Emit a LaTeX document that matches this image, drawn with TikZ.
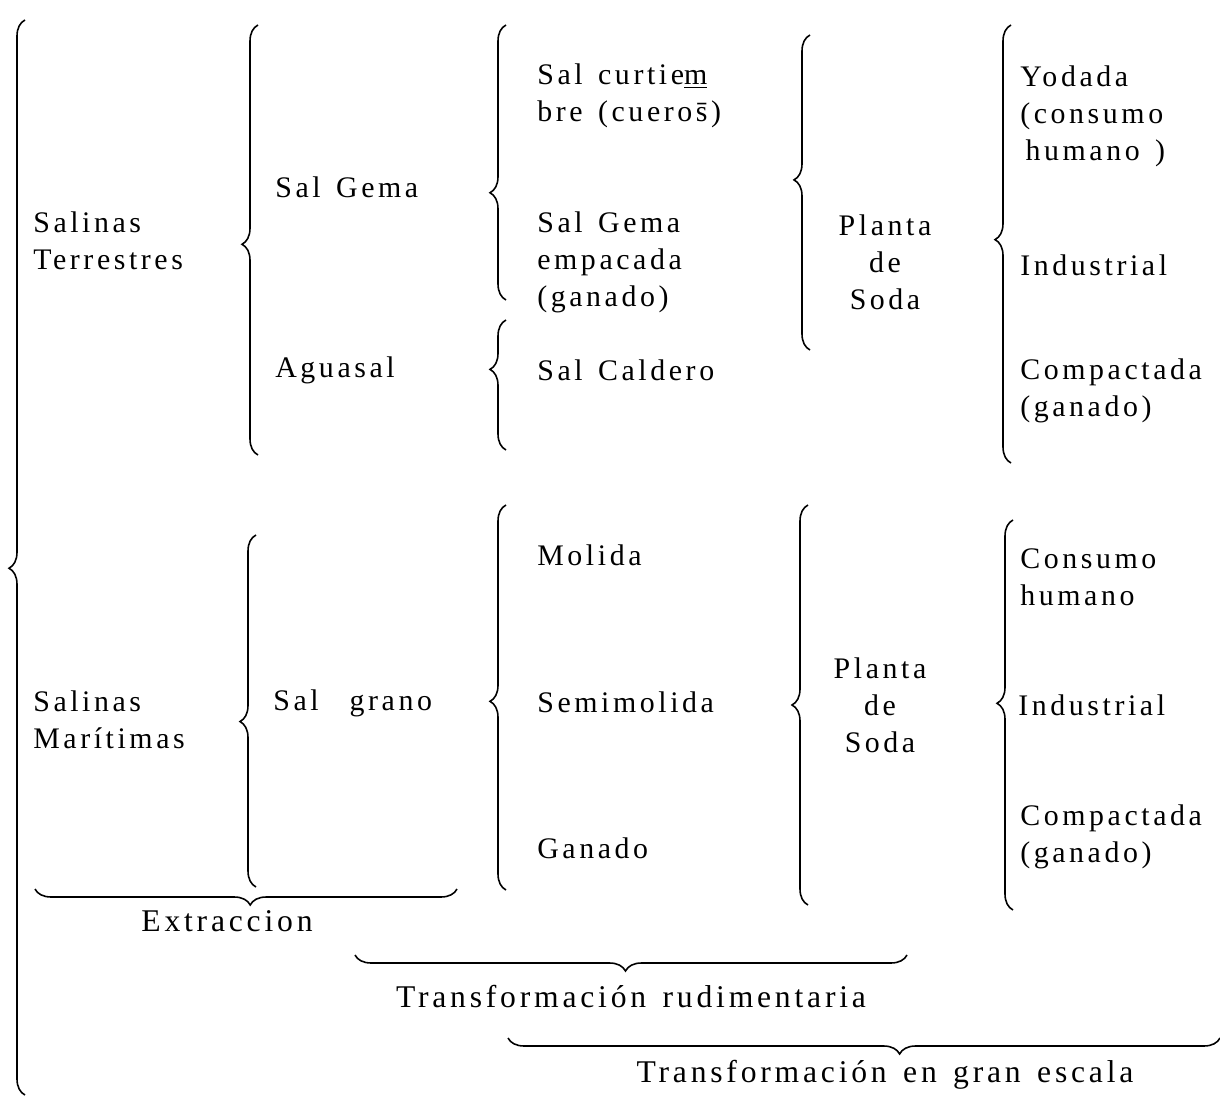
\documentclass[tikz,border=0pt]{standalone}
\usepackage{fontspec}
\setmainfont{Liberation Serif}[LetterSpace=12,WordSpace=1.4]
\usetikzlibrary{decorations.pathreplacing}

\tikzset{
	llave/.style={decorate,decoration={brace,amplitude=0.32cm,aspect=#1},line width=0.9pt},
	llave/.default=0.5,
	txt/.style={anchor=west,inner sep=0pt,align=left},
	ctxt/.style={inner sep=0pt,align=center},
	pie/.style={inner sep=0pt,font=\fontsize{18}{22}\selectfont}
}

\begin{document}
\begin{tikzpicture}[x=0.02cm,y=-0.02cm,font=\fontsize{17}{21}\selectfont]
				\useasboundingbox (0,0) rectangle (1220,1101);
				
				% columna 1
				\node[txt] (salT) at (33,241) {Salinas\\Terrestres};
				\node[txt] (salM) at (33,720) {Salinas\\Marítimas};
				
				% columna 2
				\node[txt] (gema) at (275,187) {Sal Gema};
				\node[txt] (agua) at (275,370) {Aguasal};
				\node[txt] (grano) at (273,703) {Sal~~grano};
				
				% columna 3
				\node[txt] (curt) at (537,96) {Sal curtie\underline{m}\\bre (cuero\={s})};
				\node[txt] (empac) at (537,262) {Sal Gema\\empacada\\(ganado)};
				\node[txt] (cald) at (537,370) {Sal Caldero};
				\node[txt] (mol) at (537,555) {Molida};
				\node[txt] (semi) at (537,702) {Semimolida};
				\node[txt] (gan) at (537,848) {Ganado};
				
				% columna 4
				\node[ctxt] (plantaA) at (885,262) {Planta\\de\\Soda};
				\node[ctxt] (plantaB) at (880,705) {Planta\\de\\Soda};
				
				% columna 5
				\node[txt] (yod) at (1020,116) {Yodada\\(consumo\\\hspace{3pt}humano )};
				\node[txt] (indA) at (1020,265) {Industrial};
				\node[txt] (compA) at (1020,391) {Compactada\\(ganado)};
				\node[txt] (cons) at (1020,577) {Consumo\\humano};
				\node[txt] (indB) at (1018,705) {Industrial};
				\node[txt] (compB) at (1020,837) {Compactada\\(ganado)};
				
				% llaves verticales: x, y abajo, y arriba, aspecto
				\foreach \x/\ya/\yb/\asp in {25/1095/20/0.49, 258/455/25/0.49, 256/887/535/0.47,
					506/300/25/0.39, 506/450/320/0.62, 506/890/505/0.49,
					810/350/35/0.54, 808/905/505/0.5,
					1011/463/25/0.51, 1013/910/520/0.53}{
					\draw[llave=\asp] (\x,\ya) -- (\x,\yb);}
				
				% llaves horizontales
				\draw[llave=0.49] (457,889) -- (35,889);
				\draw[llave=0.51] (907,955) -- (355,955);
				\draw[llave=0.45] (1220,1038) -- (508,1038);
				
				\node[pie] (extr) at (227,921) {Extraccion};
				\node[pie] (rud) at (631,997) {Transformación rudimentaria};
				\node[pie] (gran) at (885,1075) {Transformación en gran escala};
			\end{tikzpicture}
\end{document}
